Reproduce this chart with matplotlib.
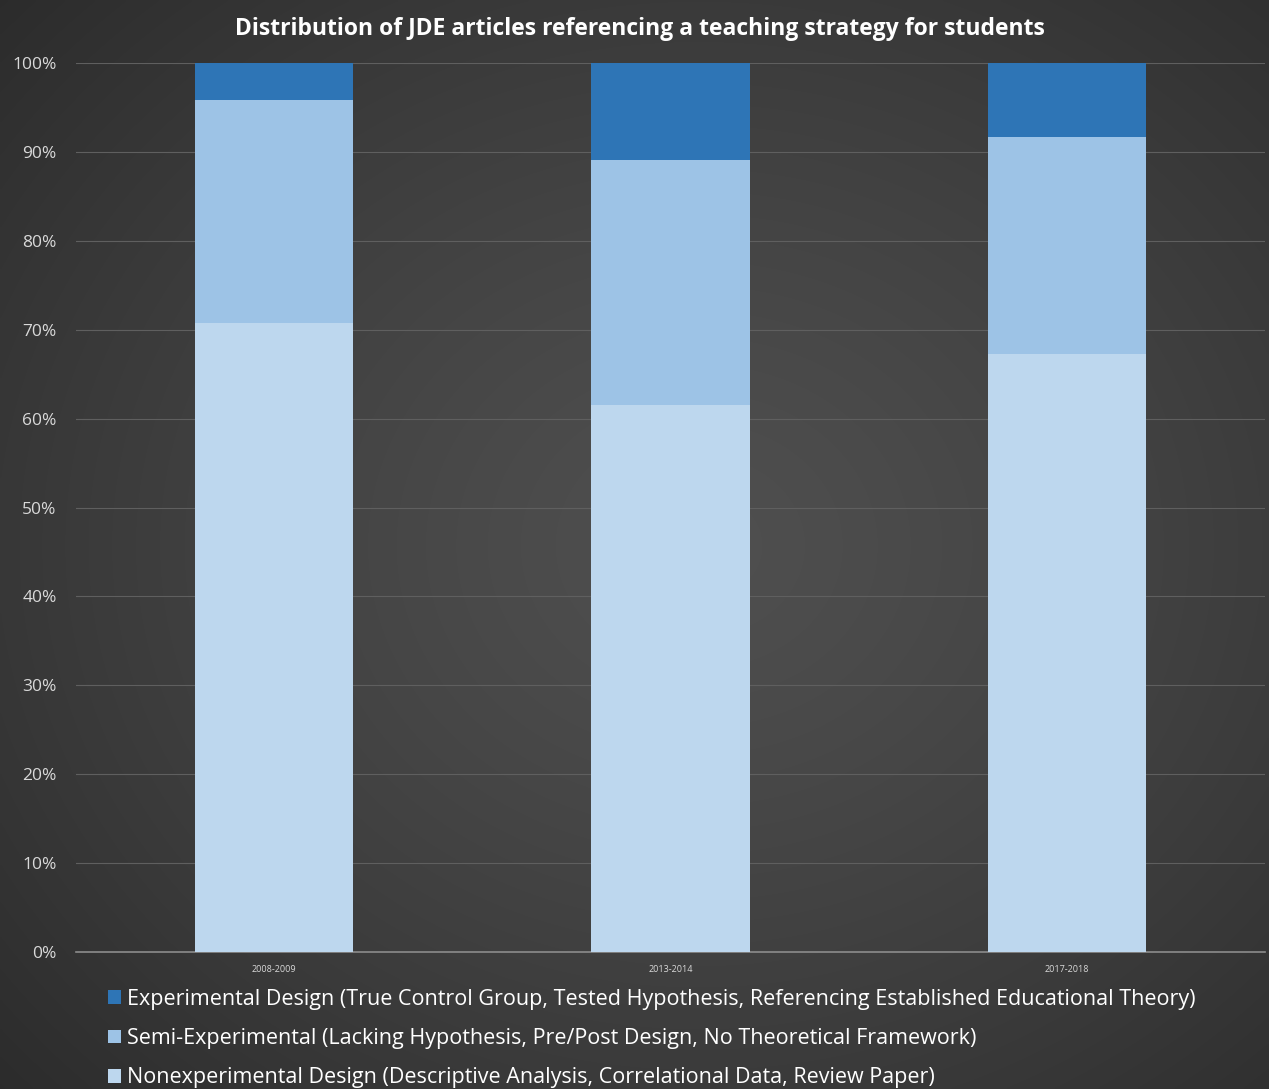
import numpy as np
import matplotlib
matplotlib.use("Agg")
import matplotlib.pyplot as plt
from matplotlib.ticker import PercentFormatter

categories = ["2008-2009", "2013-2014", "2017-2018"]
nonexperimental = [70.8, 61.5, 67.3]
semi_experimental = [25.0, 27.6, 24.4]
experimental = [4.2, 10.9, 8.3]
series_labels = [
    "Experimental Design (True Control Group, Tested Hypothesis, Referencing Established Educational Theory)",
    "Semi-Experimental (Lacking Hypothesis, Pre/Post Design, No Theoretical Framework)",
    "Nonexperimental Design (Descriptive Analysis, Correlational Data, Review Paper)",
]
title = "Distribution of JDE articles referencing a teaching strategy for students"

plt.rcParams['font.family'] = ['Open Sans', 'DejaVu Sans']

fig = plt.figure(figsize=(12.69, 10.89), dpi=100)

# radial gradient background
bg = fig.add_axes([0, 0, 1, 1], zorder=-10)
h, w = 400, 466
yy, xx = np.mgrid[0:h, 0:w]
cx, cy = w * 0.55, h * 0.50
r = np.sqrt(((xx - cx) / (w * 0.75)) ** 2 + ((yy - cy) / (h * 0.75)) ** 2)
r = np.clip(r, 0, 1)
val = 0.31 - 0.14 * r ** 1.3
img = np.dstack([val, val, val])
bg.imshow(img, aspect='auto', extent=[0, 1, 0, 1], interpolation='bilinear')
bg.set_axis_off()

ax = fig.add_axes([0.0599, 0.1258, 0.9369, 0.8163])
ax.patch.set_alpha(0)

x = np.arange(len(categories))
width = 0.4
c_exp, c_semi, c_non = "#2E75B6", "#9DC3E6", "#BDD7EE"
b_non = ax.bar(x, nonexperimental, width, color=c_non, zorder=3)
b_semi = ax.bar(x, semi_experimental, width, bottom=nonexperimental, color=c_semi, zorder=3)
bottom2 = [a + b for a, b in zip(nonexperimental, semi_experimental)]
b_exp = ax.bar(x, experimental, width, bottom=bottom2, color=c_exp, zorder=3)

ax.set_xlim(-0.5, len(categories) - 0.5)
ax.set_ylim(0, 100)
ax.set_yticks(np.arange(0, 101, 10))
ax.yaxis.set_major_formatter(PercentFormatter(decimals=0))
ax.set_xticks(x)
ax.set_xticklabels(categories, fontsize=6.5, color="#d9d9d9")
ax.tick_params(axis='y', labelsize=12.5, colors="#d9d9d9", length=0, pad=14)
ax.tick_params(axis='x', length=0, pad=9)
ax.grid(axis='y', color="#5f5f5f", linewidth=0.8, zorder=0)
for s in ['top', 'right', 'left']:
    ax.spines[s].set_visible(False)
ax.spines['bottom'].set_color("#8c8c8c")
ax.spines['bottom'].set_linewidth(1.2)

fig.text(0.504, 0.973, title, ha='center', va='center', fontsize=16.5,
         fontweight='bold', color='white')

leg = fig.legend([b_exp, b_semi, b_non], series_labels, loc='upper left',
                 bbox_to_anchor=(0.078, 0.1), frameon=False, fontsize=15.5,
                 labelcolor='white', handlelength=0.6, handleheight=0.6,
                 handletextpad=0.3, labelspacing=0.85, borderaxespad=0)

fig.savefig("out.png", dpi=100)
